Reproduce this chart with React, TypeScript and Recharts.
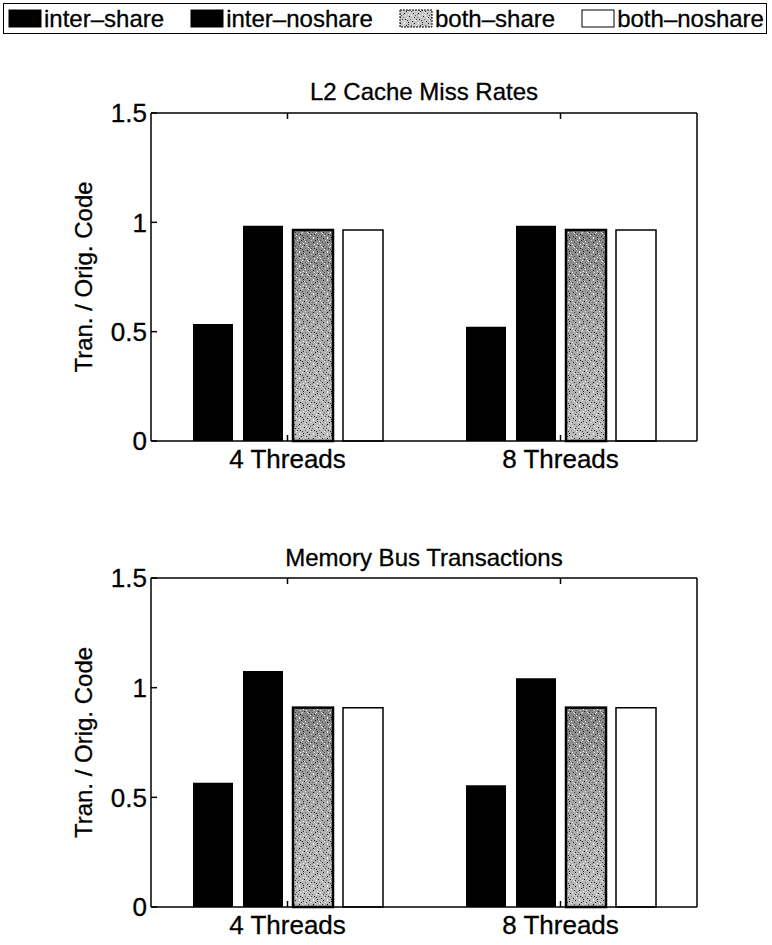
import { BarChart, Bar, XAxis, YAxis } from 'recharts'

// group labels along the x axis
const categories = ['4 Threads', '8 Threads']
const yTicks = [0, 0.5, 1, 1.5]

// L2 cache miss rates, transformed / original code
const l2InterShare = [0.535, 0.523]
const l2InterNoshare = [0.984, 0.984]
const l2BothShare = [0.965, 0.965]
const l2BothNoshare = [0.965, 0.965]

// memory bus transactions, transformed / original code
const busInterShare = [0.567, 0.555]
const busInterNoshare = [1.076, 1.043]
const busBothShare = [0.909, 0.909]
const busBothNoshare = [0.909, 0.909]

const seriesNames = ['inter-share', 'inter-noshare', 'both-share', 'both-noshare']
const seriesLabels = ['inter–share', 'inter–noshare', 'both–share', 'both–noshare']

const FONT = '"Liberation Sans", Arial, Helvetica, sans-serif'

const buildRows = (a: number[], b: number[], c: number[], d: number[]) =>
  categories.map((name, i) => ({
    name,
    [seriesNames[0]]: a[i],
    [seriesNames[1]]: b[i],
    [seriesNames[2]]: c[i],
    [seriesNames[3]]: d[i]
  }))

const l2Data = buildRows(l2InterShare, l2InterNoshare, l2BothShare, l2BothNoshare)
const busData = buildRows(busInterShare, busInterNoshare, busBothShare, busBothNoshare)

// speckle dots laid over the grey both-share fill: [x, y, shade]
const speckles: [number, number, string][] = [
  [1, 0, '#111'], [5, 0, '#fff'], [9, 1, '#333'], [3, 2, '#ddd'], [7, 2, '#222'],
  [11, 3, '#eee'], [0, 4, '#444'], [5, 4, '#000'], [9, 5, '#fafafa'], [2, 6, '#555'],
  [6, 6, '#f0f0f0'], [10, 7, '#1a1a1a'], [4, 8, '#666'], [8, 8, '#fff'], [0, 9, '#e8e8e8'],
  [6, 10, '#222'], [11, 10, '#777'], [2, 11, '#fff'], [8, 11, '#3a3a3a'], [4, 5, '#888'],
  [10, 1, '#d0d0d0'], [1, 8, '#2a2a2a'], [7, 9, '#ccc'], [3, 10, '#444'], [12, 6, '#fff'],
  [13, 12, '#222'], [12, 2, '#555'], [5, 13, '#f6f6f6'], [9, 13, '#111'], [13, 8, '#e0e0e0']
]

const StippleDefs = ({ id }: { id: string }) => (
  <>
    <linearGradient id={`${id}-shade`} x1="0" y1="0" x2="0" y2="1">
      <stop offset="0" stopColor="#858585" />
      <stop offset="0.45" stopColor="#a6a6a6" />
      <stop offset="1" stopColor="#bdbdbd" />
    </linearGradient>
    <pattern id={`${id}-dots`} width="14" height="14" patternUnits="userSpaceOnUse">
      {speckles.map(([x, y, c], i) => (
        <rect key={i} x={x} y={y} width="1" height="1" fill={c} />
      ))}
    </pattern>
  </>
)

type ShapeProps = { x?: number; y?: number; width?: number; height?: number }

// grey bar: shaded base, speckles on top, heavy outline
const stippleShape = (id: string, strokeWidth: number) => (props: ShapeProps) => {
  const { x = 0, y = 0, width = 0, height = 0 } = props
  return (
    <g>
      <rect x={x} y={y} width={width} height={height} fill={`url(#${id}-shade)`} />
      <rect x={x} y={y} width={width} height={height} fill={`url(#${id}-dots)`} />
      <rect x={x} y={y} width={width} height={height} fill="none" stroke="#000" strokeWidth={strokeWidth} />
    </g>
  )
}

const tickStyle = { fontSize: 26, fill: '#000', fontFamily: FONT, stroke: '#000', strokeWidth: 0.3 }

type PanelProps = {
  data: ReturnType<typeof buildRows>
  height: number
  top: number
  marginTop: number
  xHeight: number
  patternId: string
}

const Panel = ({ data, height, top, marginTop, xHeight, patternId }: PanelProps) => (
  <div style={{ position: 'absolute', left: 0, top }}>
    <BarChart
      width={772}
      height={height}
      data={data}
      margin={{ top: marginTop, right: 65, left: 15, bottom: 0 }}
      barSize={40}
      barGap={10}
    >
      <defs>
        <StippleDefs id={patternId} />
      </defs>
      <XAxis
        dataKey="name"
        height={xHeight}
        tick={tickStyle}
        tickSize={-6}
        tickMargin={15}
        stroke="#000"
        strokeWidth={1.5}
      />
      <XAxis
        xAxisId="top"
        orientation="top"
        dataKey="name"
        height={1}
        tickSize={-6}
        tickFormatter={() => ''}
        stroke="#000"
        strokeWidth={1.5}
      />
      <YAxis
        domain={[0, 1.5]}
        ticks={yTicks}
        width={136}
        tick={tickStyle}
        tickSize={-6}
        tickMargin={10}
        tickFormatter={(v) => String(v)}
        stroke="#000"
        strokeWidth={1.5}
        label={{
          value: 'Tran. / Orig. Code',
          angle: -90,
          position: 'center',
          style: { fontSize: 24, fill: '#000', fontFamily: FONT, stroke: '#000', strokeWidth: 0.3 }
        }}
      />
      <YAxis
        yAxisId="right"
        orientation="right"
        domain={[0, 1.5]}
        ticks={yTicks}
        width={10}
        tickSize={-6}
        tickFormatter={() => ''}
        stroke="#000"
        strokeWidth={1.5}
      />
      <Bar dataKey={seriesNames[0]} fill="#000" isAnimationActive={false} />
      <Bar dataKey={seriesNames[1]} fill="#000" isAnimationActive={false} />
      <Bar
        dataKey={seriesNames[2]}
        fill="#a6a6a6"
        shape={stippleShape(patternId, 2.5)}
        isAnimationActive={false}
      />
      <Bar
        dataKey={seriesNames[3]}
        fill="#fff"
        stroke="#000"
        strokeWidth={1.5}
        isAnimationActive={false}
      />
    </BarChart>
  </div>
)

const LegendSwatch = ({ index }: { index: number }) => {
  const fills = ['#000', '#000', '#c8c8c8', '#fff']
  return (
    <svg width={34} height={19} style={{ marginRight: 2 }}>
      <defs>
        <StippleDefs id="legend-stipple" />
      </defs>
      <rect x={1} y={1} width={32} height={17} fill={fills[index]} />
      {index === 2 && <rect x={1} y={1} width={32} height={17} fill="url(#legend-stipple-dots)" />}
      <rect
        x={1}
        y={1}
        width={32}
        height={17}
        fill="none"
        stroke="#000"
        strokeWidth={1}
        strokeDasharray={index === 2 ? '2 1' : undefined}
      />
    </svg>
  )
}

const LegendBox = () => (
  <div
    style={{
      position: 'absolute',
      left: 3,
      top: 3,
      width: 764,
      height: 31,
      border: '1.5px solid #000',
      display: 'flex',
      alignItems: 'center',
      justifyContent: 'space-between',
      paddingLeft: 4,
      paddingRight: 2,
      boxSizing: 'border-box',
      fontFamily: FONT,
      fontSize: 24,
      WebkitTextStroke: '0.3px #000'
    }}
  >
    {seriesLabels.map((label, i) => (
      <div key={label} style={{ display: 'flex', alignItems: 'center' }}>
        <LegendSwatch index={i} />
        <span>{label}</span>
      </div>
    ))}
  </div>
)

const titleStyle = {
  position: 'absolute' as const,
  left: 151,
  width: 546,
  textAlign: 'center' as const,
  fontFamily: FONT,
  fontSize: 24,
  WebkitTextStroke: '0.3px #000'
}

export default function App() {
  return (
    <div
      style={{
        position: 'absolute',
        left: 0,
        top: 0,
        width: 772,
        height: 945,
        background: '#fff',
        overflow: 'hidden'
      }}
    >
      <Panel data={l2Data} height={480} top={0} marginTop={112} xHeight={39} patternId="stipple-l2" />
      <Panel data={busData} height={465} top={480} marginTop={97} xHeight={38} patternId="stipple-bus" />
      <div style={{ ...titleStyle, top: 78 }}>L2 Cache Miss Rates</div>
      <div style={{ ...titleStyle, top: 544 }}>Memory Bus Transactions</div>
      <LegendBox />
    </div>
  )
}
